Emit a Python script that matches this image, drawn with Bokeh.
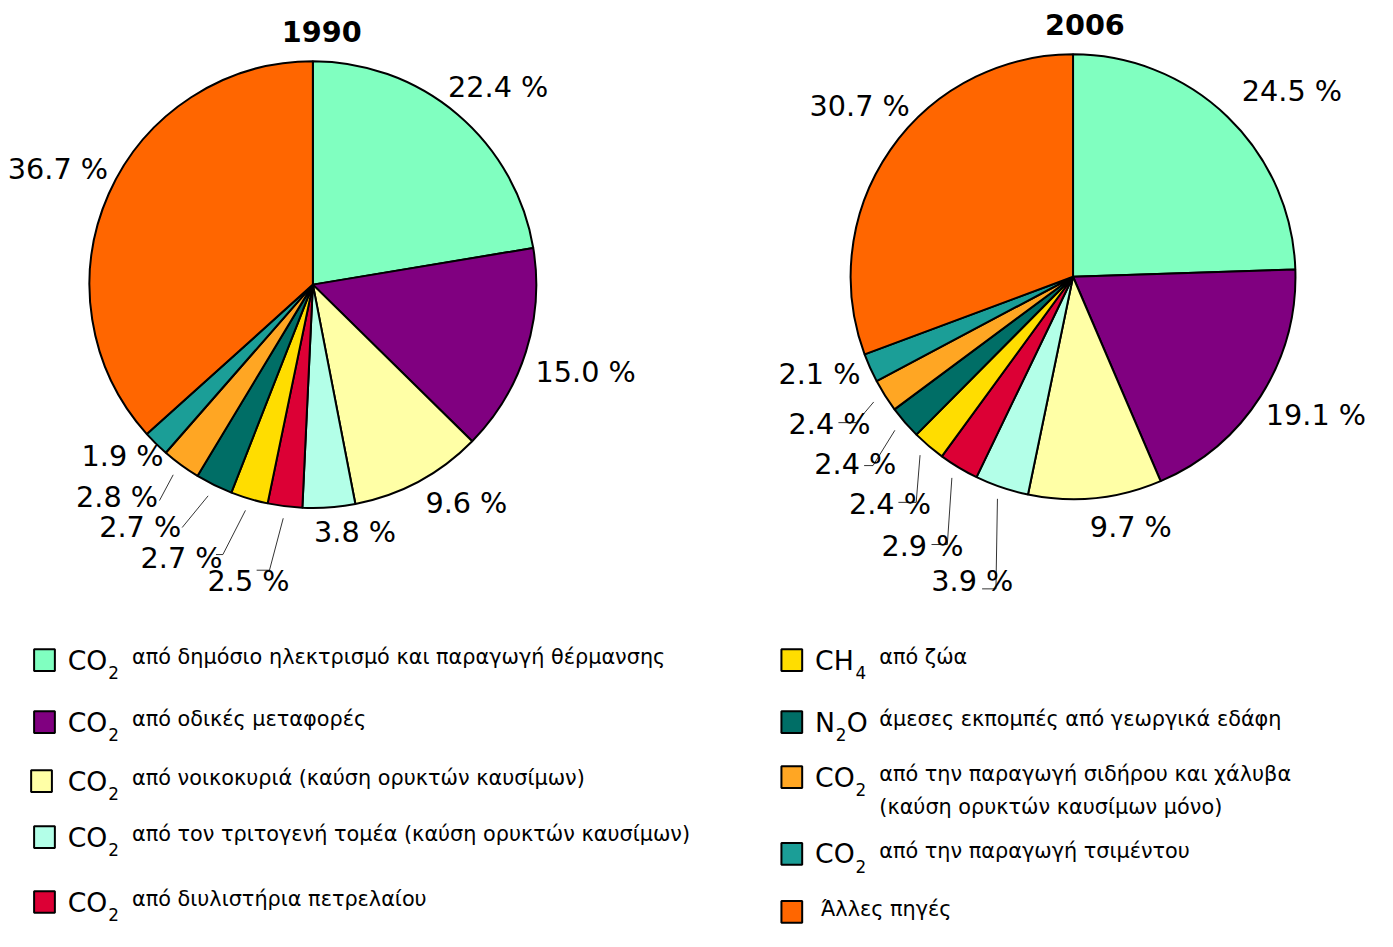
import math
from bokeh.plotting import figure
from bokeh.models import Range1d, ColumnDataSource
from bokeh.core.properties import value
from bokeh.embed import file_html
from bokeh.resources import INLINE

# ---------------- data ----------------
years = ["1990", "2006"]
vals_1990 = [22.4, 15.0, 9.6, 3.8, 2.5, 2.7, 2.7, 2.8, 1.9, 36.7]
vals_2006 = [24.5, 19.1, 9.7, 3.9, 2.9, 2.4, 2.4, 2.4, 2.1, 30.7]
colors = ["#80FFC0", "#800080", "#FFFFA6", "#B3FFE8", "#DC0035",
          "#FFDD00", "#006E66", "#FFA623", "#1B9E97", "#FF6600"]

formula_pre = ["CO", "CO", "CO", "CO", "CO", "CH", "N", "CO", "CO", ""]
formula_sub = ["2", "2", "2", "2", "2", "4", "2", "2", "2", ""]
formula_post = ["", "", "", "", "", "", "O", "", "", ""]
descriptions = [
    ["από δημόσιο ηλεκτρισμό και παραγωγή θέρμανσης"],
    ["από οδικές μεταφορές"],
    ["από νοικοκυριά (καύση ορυκτών καυσίμων)"],
    ["από τον τριτογενή τομέα (καύση ορυκτών καυσίμων)"],
    ["από διυλιστήρια πετρελαίου"],
    ["από ζώα"],
    ["άμεσες εκπομπές από γεωργικά εδάφη"],
    ["από την παραγωγή σιδήρου και χάλυβα", "(καύση ορυκτών καυσίμων μόνο)"],
    ["από την παραγωγή τσιμέντου"],
    ["Άλλες πηγές"],
]

# ---------------- layout ----------------
W, H = 1377, 931          # figure size in screen pixels
VW, VH = 1393, 947        # virtual canvas (reference pixel space)
S = W / VW
def Y(ys):
    return VH - ys
def fs(px):
    return f"{px * S:.1f}px"

pies = [
    dict(vals=vals_1990, cx=316, cy=289, R=226, title_xy=(325, 32),
         lab_da=[2.7, 0.3, -6.7, -5.5, 5.0, 9.0, 9.1, 6.4, 3.2, 0.6],
         lab_r=[1.217, 1.283, 1.20, 1.128, 1.363, 1.363, 1.336, 1.296, 1.15, 1.255],
         lead_r=[0, 0, 0, 0, 1.30, 1.28, 1.24, 1.19, 0, 0],
         lead_da=[0, 0, 0, 0, 1.4, 1.8, 1.9, -0.9, 0, 0],
         tick=[0, 0, 0, 0, 13, 7, 0, 0, 0, 0]),
    dict(vals=vals_2006, cx=1085, cy=281, R=225, title_xy=(1097, 24),
         lab_da=[5.5, -2.7, -7.2, -0.5, -1.8, -1.7, 0.0, 0.9, 3.1, 4.0],
         lab_r=[1.293, 1.258, 1.16, 1.449, 1.391, 1.315, 1.295, 1.282, 1.222, 1.231],
         lead_r=[0, 0, 0, 1.453, 1.336, 1.24, 1.24, 1.177, 0, 0],
         lead_da=[0, 0, 0, -4.9, -5.9, -5.8, -2.6, -1.8, 0, 0],
         tick=[0, 0, 0, 14, 16, 18, 9, 18, 0, 0]),
]

p = figure(width=W, height=H, x_range=Range1d(0, VW), y_range=Range1d(0, VH),
           output_backend="svg", toolbar_location=None, min_border=0)
p.axis.visible = False
p.grid.visible = False
p.outline_line_color = None
p.background_fill_color = "white"

FONT = value("DejaVu Sans")

for year, pie in zip(years, pies):
    vals = pie["vals"]
    tot = sum(vals)
    cx, cy, R = pie["cx"], Y(pie["cy"]), pie["R"]
    starts, ends, mids = [], [], []
    acc = 0.0
    for v in vals:
        c0 = acc / tot * 360.0
        acc += v
        c1 = acc / tot * 360.0
        starts.append(math.radians(90 - c1))
        ends.append(math.radians(90 - c0))
        mids.append((c0 + c1) / 2)
    src = ColumnDataSource(dict(x=[cx] * len(vals), y=[cy] * len(vals),
                                s=starts, e=ends, c=colors))
    p.wedge(x="x", y="y", radius=R, start_angle="s", end_angle="e",
            direction="anticlock", fill_color="c", line_color="black",
            line_width=2, source=src)

    # labels
    lx, ly, lt = [], [], []
    lead_xs, lead_ys = [], []
    for i, v in enumerate(vals):
        a = math.radians(mids[i] + pie["lab_da"][i])
        r = pie["lab_r"][i] * R
        lx.append(cx + r * math.sin(a))
        ly.append(cy + r * math.cos(a))
        lt.append(f"{v:.1f} %")
        if pie["lead_r"][i] > 0:
            a0 = math.radians(mids[i])
            r0 = 1.06 * R
            a1 = math.radians(mids[i] + pie["lead_da"][i])
            r1 = pie["lead_r"][i] * R
            x0, y0 = cx + r0 * math.sin(a0), cy + r0 * math.cos(a0)
            x1, y1 = cx + r1 * math.sin(a1), cy + r1 * math.cos(a1)
            xs = [x0, x1]
            ys = [y0, y1]
            if pie["tick"][i] > 0:
                xs.append(x1 - pie["tick"][i])
                ys.append(y1)
            lead_xs.append(xs)
            lead_ys.append(ys)
    p.multi_line(xs=lead_xs, ys=lead_ys, line_color="black", line_width=0.8)
    p.text(x=lx, y=ly, text=lt, text_font=FONT, text_font_size=fs(29),
           text_align="center", text_baseline="middle", text_color="black")
    tx, ty = pie["title_xy"]
    p.text(x=[tx], y=[Y(ty)], text=[year], text_font=FONT, text_font_size=fs(29),
           text_font_style="bold", text_align="center", text_baseline="middle",
           text_color="black")

# ---------------- legend ----------------
col_x = [34, 790]
rows_y = [[671, 734, 794, 851, 917], [671, 734, 790, 868, 927]]
sq = 21
for k in range(len(colors)):
    col = 0 if k < 5 else 1
    row = k % 5
    x0 = col_x[col] - (3 if (col == 0 and row == 2) else 0)
    yc = rows_y[col][row]
    p.rect(x=[x0 + sq / 2], y=[Y(yc)], width=sq, height=sq + 1,
           fill_color=colors[k], line_color="black", line_width=2)
    fx = col_x[col] + 34
    if formula_pre[k]:
        p.text(x=[fx], y=[Y(yc)], text=[formula_pre[k]], text_font=FONT,
               text_font_size=fs(27), text_align="left", text_baseline="middle")
        pre_w = 40 if formula_pre[k] != "N" else 20
        p.text(x=[fx + pre_w + 1], y=[Y(yc + 13)], text=[formula_sub[k]], text_font=FONT,
               text_font_size=fs(17), text_align="left", text_baseline="middle")
        if formula_post[k]:
            p.text(x=[fx + pre_w + 12], y=[Y(yc)], text=[formula_post[k]], text_font=FONT,
                   text_font_size=fs(27), text_align="left", text_baseline="middle")
        dx = col_x[col] + 99
    else:
        dx = col_x[col] + 40
    for j, line in enumerate(descriptions[k]):
        p.text(x=[dx], y=[Y(yc - 3 + 33 * j)], text=[line], text_font=FONT,
               text_font_size=fs(21), text_align="left", text_baseline="middle")

open("out.html", "w").write(file_html(p, INLINE))
